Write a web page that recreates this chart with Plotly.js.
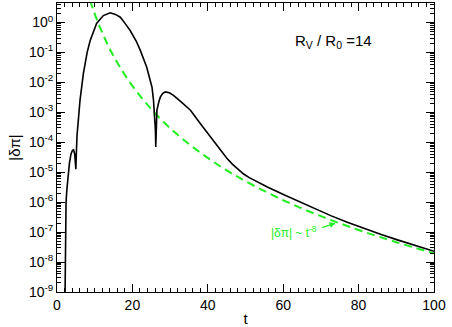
<!DOCTYPE html>
<html><head><meta charset="utf-8">
<script src="https://cdn.plot.ly/plotly-3.0.1.min.js"></script>
<style>html,body{margin:0;padding:0;background:#fff}#plot{width:452px;height:327px}</style>
</head><body><div id="plot"></div>
<script>
// black curve |δπ|(t)
const tBlack = [2.10,2.15,2.2,2.3,2.4,2.6,2.9,3.3,3.7,4.1,4.4,4.7,4.9,5.0,5.1,5.3,5.7,6.1,7.0,8.0,8.8,10.5,12.3,14.1,15.5,16.8,18,19.4,21,22.1,23.8,24.6,25.2,25.6,25.9,26.1,26.2,26.3,26.5,27.0,27.4,28.0,28.7,29.8,30.9,33,35.4,38,40.7,43.4,45,46.5,48,49.5,51,53,55.8,60.2,64.6,69.1,72.6,77,81.5,86,90.3,95,100];
const yBlack = [3.2e-10,3.2e-9,3.2e-8,3.2e-7,1e-6,2.5e-6,7.1e-6,2.0e-5,4.0e-5,5.4e-5,5.6e-5,4.0e-5,1.8e-5,1.26e-5,3.2e-5,1.6e-4,6.3e-4,2.5e-3,0.02,0.1,0.25,0.93,1.7,2.1,1.86,1.5,0.95,0.54,0.24,0.117,0.032,0.014,0.0069,0.0025,7.9e-4,2.5e-4,6.9e-5,4.0e-4,1.17e-3,2.2e-3,3.2e-3,4.2e-3,4.8e-3,4.5e-3,3.7e-3,2.2e-3,1.17e-3,4.2e-4,1.51e-4,5.4e-5,3.0e-5,1.86e-5,1.23e-5,8.7e-6,6.6e-6,4.8e-6,3.2e-6,1.78e-6,1.0e-6,5.5e-7,3.55e-7,2.14e-7,1.32e-7,8.3e-8,5.5e-8,3.55e-8,2.3e-8];
// green dashed fit |δπ| ~ t^-8
const tGreen = [8.8,9.5,10,11,12,13,14,15,17,20,23,26,30,35,40,45,50,60,70,80,90,100];
const yGreen = [5.4,2.9,1.95,0.91,0.46,0.24,0.13,0.076,0.028,0.0076,0.0025,9.3e-4,2.95e-4,8.7e-5,3.0e-5,1.15e-5,5.0e-6,1.16e-6,3.4e-7,1.18e-7,4.6e-8,1.95e-8];
// tick labels
const yTickVals = [1e-9,1e-8,1e-7,1e-6,1e-5,1e-4,1e-3,1e-2,1e-1,1];
const yTickText = ['10<sup>-9</sup>','10<sup>-8</sup>','10<sup>-7</sup>','10<sup>-6</sup>','10<sup>-5</sup>','10<sup>-4</sup>','10<sup>-3</sup>','10<sup>-2</sup>','10<sup>-1</sup>','10<sup>0</sup>'];
const xTickVals = [0,20,40,60,80,100];

const minorY = [];
for (let e = -9; e <= 0; e++) for (let k = 2; k <= 9; k++) minorY.push(k * Math.pow(10, e));

const font = 'Liberation Sans, Arial, Helvetica, sans-serif';
const green = '#22ee22';
const data = [
  {x: tGreen, y: yGreen, mode: 'lines', line: {color: green, width: 2, dash: '8px,5px', shape: 'spline', smoothing: 1}, hoverinfo: 'skip'},
  {x: tBlack, y: yBlack, mode: 'lines', line: {color: '#000', width: 1.6}, hoverinfo: 'skip'}
];
const layout = {
  width: 452, height: 327,
  margin: {l: 57, r: 18, t: 2.5, b: 35},
  paper_bgcolor: '#fff', plot_bgcolor: '#fff',
  showlegend: false,
  font: {family: font, size: 14, color: '#000'},
  xaxis: {
    range: [0, 100], tickmode: 'array', tickvals: xTickVals,
    ticks: 'inside', ticklen: 8, tickcolor: '#000', tickwidth: 1,
    showline: true, linecolor: '#000', linewidth: 1, mirror: 'allticks',
    showgrid: false, zeroline: false,
    minor: {ticks: 'inside', dtick: 2, tick0: 0, ticklen: 4, tickcolor: '#000', showgrid: false},
    tickfont: {size: 14}, title: {text: 't', font: {size: 15}, standoff: 2}
  },
  yaxis: {
    type: 'log', range: [-9, 0.65], tickmode: 'array', tickvals: yTickVals, ticktext: yTickText,
    ticks: 'inside', ticklen: 8, tickcolor: '#000', tickwidth: 1,
    showline: true, linecolor: '#000', linewidth: 1, mirror: 'allticks',
    showgrid: false, zeroline: false,
    minor: {ticks: 'inside', tickmode: 'array', tickvals: minorY, ticklen: 4, tickcolor: '#000', showgrid: false},
    tickfont: {size: 14}, title: {text: '|δπ|', font: {size: 15}, standoff: 4}
  },
  annotations: [
    {xref: 'paper', yref: 'paper', x: 0.84, y: 0.905, text: 'R<sub>V</sub> / R<sub>0</sub> =14', showarrow: false, font: {size: 15}},
    {x: 62.8, y: -7.0, text: '|δπ| ~ t<sup>-8</sup>', showarrow: false, font: {size: 12, color: green}},
    {x: 73.9, y: -6.7, ax: -15, ay: 5, text: '', showarrow: true,
     arrowcolor: green, arrowhead: 2, arrowsize: 1, arrowwidth: 1.2}
  ]
};
Plotly.newPlot('plot', data, layout, {staticPlot: true});
</script>
</body></html>
